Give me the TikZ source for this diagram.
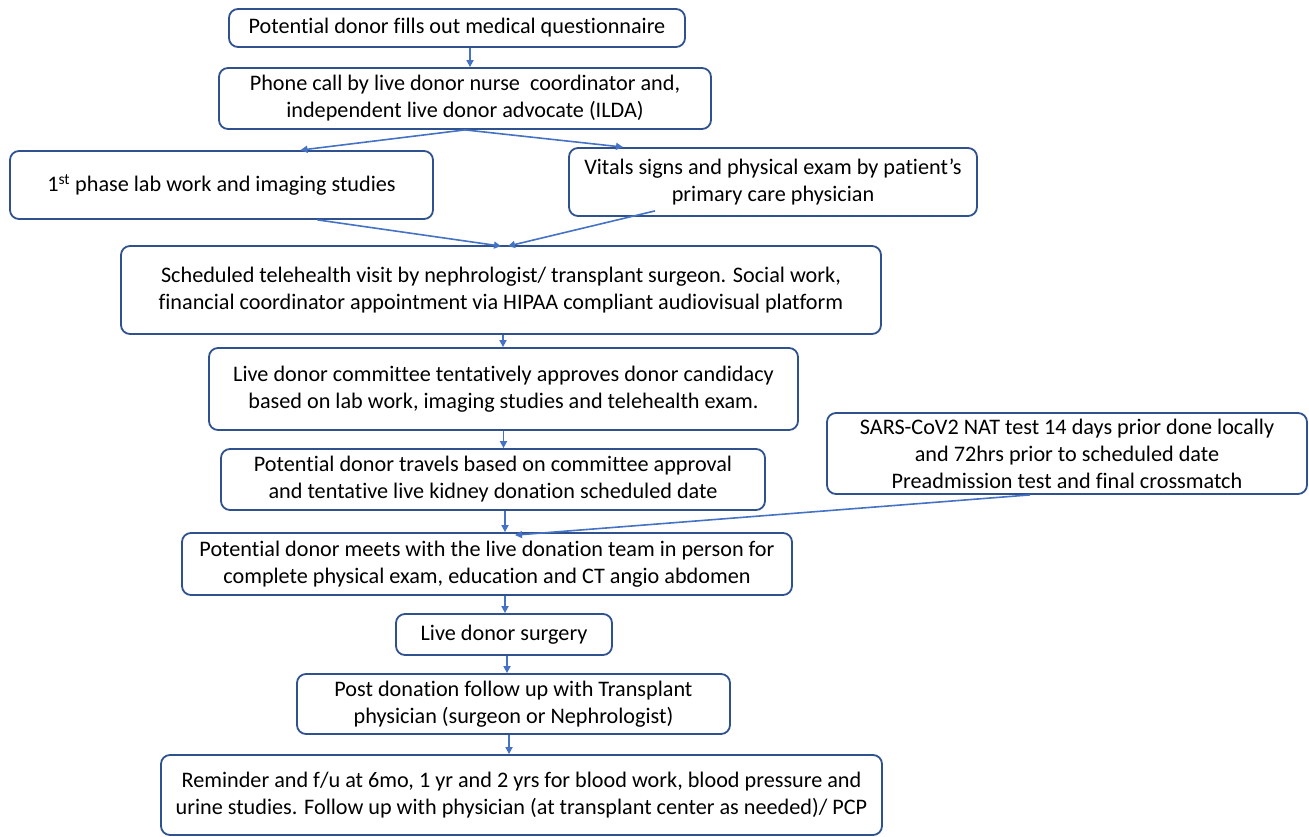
\documentclass[tikz,border=0pt]{standalone}
\usepackage{fontspec}
\setmainfont{Carlito}[Ligatures=NoCommon]
\usetikzlibrary{arrows.meta}
\definecolor{boxblue}{HTML}{2F528F}
\definecolor{arrowblue}{HTML}{4472C4}
\tikzstyle{box}=[draw=boxblue, line width=1.8pt, rounded corners=9pt, align=center, inner sep=0pt, font=\fontsize{22.2}{27}\selectfont]
\tikzstyle{link}=[draw=arrowblue, line width=1.6pt, -{Triangle[length=7pt,width=7pt]}]

\begin{document}
\begin{tikzpicture}[x=1pt, y=-1pt]
\useasboundingbox (0,0) rectangle (1309,836);
% Boxes
    \node[box, minimum width=456, minimum height=38] (quest) at (457,28) {Potential donor fills out medical questionnaire};
    \node[box, minimum width=492, minimum height=61] (phone) at (465,98.5) {Phone call by live donor nurse\ \ coordinator and,\\independent live donor advocate (ILDA)};
    \node[box, minimum width=423, minimum height=68] (lab) at (221.5,185) {1\textsuperscript{st} phase lab work and imaging studies};
    \node[box, minimum width=408, minimum height=68] (vitals) at (773,182) {Vitals signs and physical exam by patient's\\primary care physician};
    \node[box, minimum width=760, minimum height=88] (tele) at (501,290) {Scheduled telehealth visit by nephrologist/ transplant surgeon. Social work,\\financial coordinator appointment via HIPAA compliant audiovisual platform};
    \node[box, minimum width=589, minimum height=82] (comm) at (503.5,389) {Live donor committee tentatively approves donor candidacy\\based on lab work, imaging studies and telehealth exam.};
    \node[box, minimum width=544, minimum height=61] (travel) at (493,479.5) {Potential donor travels based on committee approval\\and tentative live kidney donation scheduled date};
    \node[box, minimum width=480, minimum height=81] (sars) at (1067,453.5) {SARS-CoV2 NAT test 14 days prior done locally\\and 72hrs prior to scheduled date\\Preadmission test and final crossmatch};
    \node[box, minimum width=610, minimum height=62] (meet) at (487,564) {Potential donor meets with the live donation team in person for\\complete physical exam, education and CT angio abdomen};
    \node[box, minimum width=216, minimum height=41] (surgery) at (504,634.5) {Live donor surgery};
    \node[box, minimum width=433, minimum height=60] (post) at (513.5,704) {Post donation follow up with Transplant\\physician (surgeon or Nephrologist)};
    \node[box, minimum width=721, minimum height=80] (remind) at (521.5,795) {Reminder and f/u at 6mo, 1 yr and 2 yrs for blood work, blood pressure and\\urine studies. Follow up with physician (at transplant center as needed)/ PCP};
% Arrows
    \draw[link] ([xshift=13]quest.south) -- ([xshift=13]quest.south |- phone.north);
    \draw[link] (phone.south) -- ([xshift=79]lab.north);
    \draw[link] (phone.south) -- ([xshift=-150]vitals.north);
    \draw[link] ([xshift=96]lab.south) -- ([yshift=-1]tele.north);
    \draw[link] ([xshift=-118,yshift=6]vitals.south) -- ([xshift=7,yshift=-1]tele.north);
    \draw[link] ([xshift=2]tele.south) -- ([xshift=2]tele.south |- comm.north);
    \draw[link] (comm.south) -- (comm.south |- travel.north);
    \draw[link] ([xshift=12]travel.south) -- ([xshift=12]travel.south |- meet.north);
    \draw[link] ([xshift=-37]sars.south) -- ([xshift=28,yshift=-3]meet.north);
    \draw[link] ([xshift=18]meet.south) -- ([xshift=18]meet.south |- surgery.north);
    \draw[link] ([xshift=3]surgery.south) -- ([xshift=3]surgery.south |- post.north);
    \draw[link] ([xshift=-4.5]post.south) -- ([xshift=-4.5]post.south |- remind.north);
\end{tikzpicture}
\end{document}
